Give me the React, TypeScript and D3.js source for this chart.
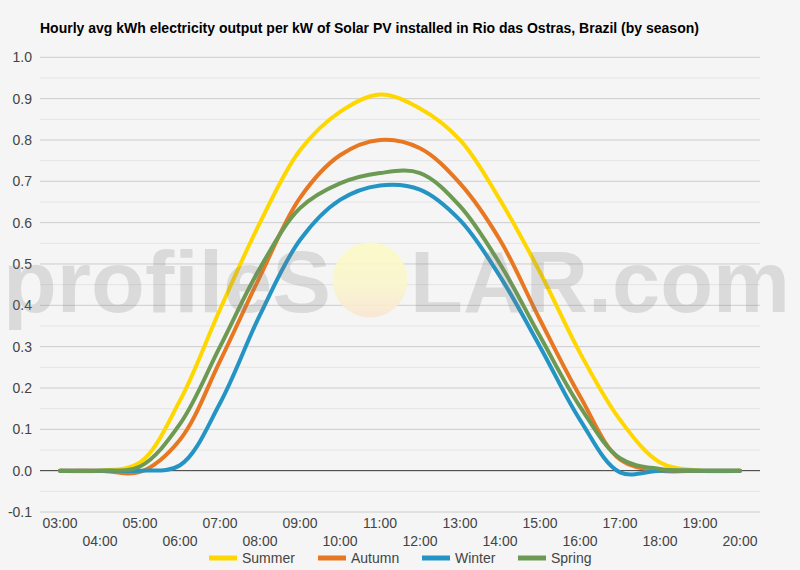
import React from "react";
import * as d3 from "d3";

const hours = ["03:00","04:00","05:00","06:00","07:00","08:00","09:00","10:00","11:00","12:00","13:00","14:00","15:00","16:00","17:00","18:00","19:00","20:00"];
const summer = [0, 0, 0.02, 0.17, 0.39, 0.6, 0.775, 0.868, 0.91, 0.876, 0.8, 0.655, 0.48, 0.285, 0.123, 0.02, 0, 0];
const autumn = [0, 0, -0.003, 0.075, 0.265, 0.47, 0.66, 0.763, 0.8, 0.78, 0.695, 0.558, 0.365, 0.18, 0.027, 0, 0, 0];
const winter = [0, 0, 0, 0.013, 0.163, 0.377, 0.558, 0.655, 0.69, 0.68, 0.606, 0.47, 0.3, 0.123, -0.004, 0, 0, 0];
const spring = [0, 0, 0.01, 0.113, 0.3, 0.49, 0.635, 0.695, 0.72, 0.72, 0.64, 0.5, 0.325, 0.155, 0.03, 0.004, 0, 0];
const seriesNames = ["Summer", "Autumn", "Winter", "Spring"];
const seriesColors = ["#FFD700", "#E87722", "#2494C4", "#6C9A52"];
const yTicks = [-0.1, 0, 0.1, 0.2, 0.3, 0.4, 0.5, 0.6, 0.7, 0.8, 0.9, 1.0];
const title = "Hourly avg kWh electricity output per kW of Solar PV installed in Rio das Ostras, Brazil (by season)";

const W = 800, H = 570;
const left = 40, right = 760, top = 57.3, bottom = 512;

export default function App() {
  const x = d3.scalePoint<string>().domain(hours).range([left, right]).padding(0.5);
  const y = d3.scaleLinear().domain([-0.1, 1.0]).range([bottom, top]);
  const allSeries = [summer, autumn, winter, spring];
  const line = d3
    .line<number>()
    .x((_, i) => x(hours[i]) as number)
    .y((d) => y(d))
    .curve(d3.curveCatmullRom.alpha(0.5));
  const minor = d3.range(-0.05, 1.0, 0.1);
  const legendX = [209, 318, 422, 518];
  const font = "Arial, 'Liberation Sans', sans-serif";
  return (
    <svg width={W} height={H} style={{ position: "absolute", left: 0, top: 0 }} fontFamily={font}>
      <defs>
        <linearGradient id="sun" x1="0" y1="0" x2="0" y2="1">
          <stop offset="0%" stopColor="#fbfac4" />
          <stop offset="55%" stopColor="#faf6cc" />
          <stop offset="100%" stopColor="#f8e6d2" />
        </linearGradient>
      </defs>
      <rect width={W} height={H} fill="#f5f5f5" />
      <text x={40} y={33} fontSize={14} fontWeight="bold" fill="#000">{title}</text>
      {minor.map((v) => (
        <line key={"m" + v} x1={left} x2={right} y1={y(v)} y2={y(v)} stroke="#e4e4e4" strokeWidth={1} />
      ))}
      {yTicks.map((v) => (
        <line key={"g" + v} x1={left} x2={right} y1={y(v)} y2={y(v)} stroke={v === 0 ? "#333" : "#cccccc"} strokeWidth={1} />
      ))}
      {yTicks.map((v) => (
        <text key={"t" + v} x={32} y={y(v) + 5} fontSize={14} textAnchor="end" fill="#444">{v.toFixed(1)}</text>
      ))}
      {hours.map((h, i) => (
        <text key={h} x={x(h)} y={i % 2 === 0 ? 528 : 546} fontSize={14} textAnchor="middle" fill="#444">{h}</text>
      ))}
      {allSeries.map((s, i) => (
        <path key={seriesNames[i]} d={line(s) || ""} fill="none" stroke={seriesColors[i]} strokeWidth={4} strokeLinejoin="round" strokeLinecap="round" />
      ))}
      <g>
        <text x={3} y={312} fontSize={88} fontWeight="bold" fill="#808080" opacity={0.22} textLength={328} lengthAdjust="spacingAndGlyphs">profileS</text>
        <circle cx={370} cy={280} r={37.5} fill="url(#sun)" opacity={0.9} />
        <text x={410} y={312} fontSize={88} fontWeight="bold" fill="#808080" opacity={0.22} textLength={380} lengthAdjust="spacingAndGlyphs">LAR.com</text>
      </g>
      {seriesNames.map((n, i) => (
        <g key={n}>
          <line x1={legendX[i]} x2={legendX[i] + 28} y1={558} y2={558} stroke={seriesColors[i]} strokeWidth={5} />
          <text x={legendX[i] + 33} y={563} fontSize={14} fill="#444">{n}</text>
        </g>
      ))}
    </svg>
  );
}
